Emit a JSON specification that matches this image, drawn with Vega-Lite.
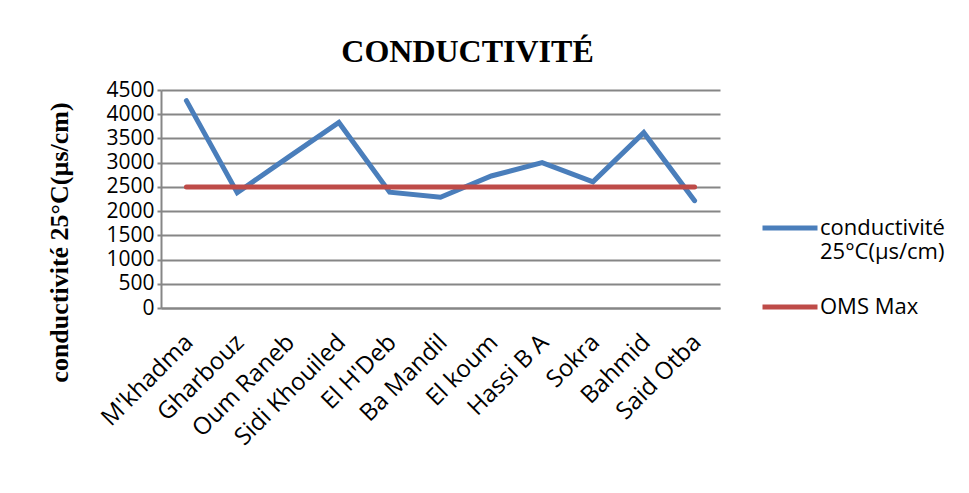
{
  "$schema": "https://vega.github.io/schema/vega-lite/v6.json",
  "width": 559,
  "height": 218,
  "autosize": {"type": "none"},
  "padding": {"left": 161, "top": 90, "right": 249, "bottom": 185},
  "background": "white",
  "title": {
    "text": "CONDUCTIVITÉ",
    "font": "Liberation Serif",
    "fontSize": 32,
    "fontWeight": "bold",
    "color": "#000000",
    "anchor": "middle",
    "dx": 27,
    "offset": 10
  },
  "data": {
    "values": [
      {"site": "M'khadma", "serie": "conductivité 25°C(µs/cm)", "valeur": 4280},
      {"site": "Gharbouz", "serie": "conductivité 25°C(µs/cm)", "valeur": 2380},
      {"site": "Oum Raneb", "serie": "conductivité 25°C(µs/cm)", "valeur": 3110},
      {"site": "Sidi Khouiled", "serie": "conductivité 25°C(µs/cm)", "valeur": 3830},
      {"site": "El H'Deb", "serie": "conductivité 25°C(µs/cm)", "valeur": 2390},
      {"site": "Ba Mandil", "serie": "conductivité 25°C(µs/cm)", "valeur": 2285},
      {"site": "El koum", "serie": "conductivité 25°C(µs/cm)", "valeur": 2725},
      {"site": "Hassi B A", "serie": "conductivité 25°C(µs/cm)", "valeur": 3000},
      {"site": "Sokra", "serie": "conductivité 25°C(µs/cm)", "valeur": 2605},
      {"site": "Bahmid", "serie": "conductivité 25°C(µs/cm)", "valeur": 3620},
      {"site": "Said Otba", "serie": "conductivité 25°C(µs/cm)", "valeur": 2215},
      {"site": "M'khadma", "serie": "OMS Max", "valeur": 2500},
      {"site": "Gharbouz", "serie": "OMS Max", "valeur": 2500},
      {"site": "Oum Raneb", "serie": "OMS Max", "valeur": 2500},
      {"site": "Sidi Khouiled", "serie": "OMS Max", "valeur": 2500},
      {"site": "El H'Deb", "serie": "OMS Max", "valeur": 2500},
      {"site": "Ba Mandil", "serie": "OMS Max", "valeur": 2500},
      {"site": "El koum", "serie": "OMS Max", "valeur": 2500},
      {"site": "Hassi B A", "serie": "OMS Max", "valeur": 2500},
      {"site": "Sokra", "serie": "OMS Max", "valeur": 2500},
      {"site": "Bahmid", "serie": "OMS Max", "valeur": 2500},
      {"site": "Said Otba", "serie": "OMS Max", "valeur": 2500}
    ]
  },
  "mark": {"type": "line", "strokeWidth": 5, "strokeCap": "round", "strokeJoin": "miter"},
  "encoding": {
    "x": {
      "field": "site",
      "type": "nominal",
      "sort": null,
      "scale": {"type": "point", "padding": 0.5},
      "axis": {
        "title": null,
        "labelAngle": -45,
        "labelFont": "Open Sans",
        "labelFontSize": 24,
        "labelColor": "#000000",
        "labelPadding": 22,
        "labelOffset": -6,
        "ticks": false,
        "grid": false,
        "domainColor": "#868686",
        "domainWidth": 2
      }
    },
    "y": {
      "field": "valeur",
      "type": "quantitative",
      "scale": {"domain": [0, 4500], "nice": false},
      "axis": {
        "values": [0, 500, 1000, 1500, 2000, 2500, 3000, 3500, 4000, 4500],
        "format": "d",
        "title": "conductivité 25°C(µs/cm)",
        "titleFont": "Liberation Serif",
        "titleFontSize": 26,
        "titleFontWeight": "bold",
        "titleColor": "#000000",
        "titleAngle": -90,
        "titleAlign": "center",
        "titleBaseline": "alphabetic",
        "titleX": -94,
        "titleY": 152,
        "labelFont": "Open Sans",
        "labelFontSize": 21,
        "labelColor": "#000000",
        "labelPadding": 3,
        "tickSize": 4,
        "tickColor": "#868686",
        "tickWidth": 2,
        "gridColor": "#868686",
        "gridWidth": 2,
        "domainColor": "#868686",
        "domainWidth": 2
      }
    },
    "color": {
      "field": "serie",
      "type": "nominal",
      "scale": {
        "domain": ["conductivité 25°C(µs/cm)", "OMS Max"],
        "range": ["#4A7EBB", "#BE4B48"]
      },
      "legend": {
        "title": null,
        "orient": "none",
        "legendX": 599,
        "legendY": 108,
        "symbolType": "stroke",
        "symbolSize": 3025,
        "symbolStrokeWidth": 5,
        "labelFont": "Open Sans",
        "labelFontSize": 22,
        "labelColor": "#000000",
        "labelLimit": 0,
        "labelOffset": 0,
        "rowPadding": 14,
        "labelExpr": "datum.label == 'OMS Max' ? datum.label : ['conductivité', '25°C(µs/cm)']"
      }
    }
  },
  "config": {
    "view": {"stroke": null}
  }
}
